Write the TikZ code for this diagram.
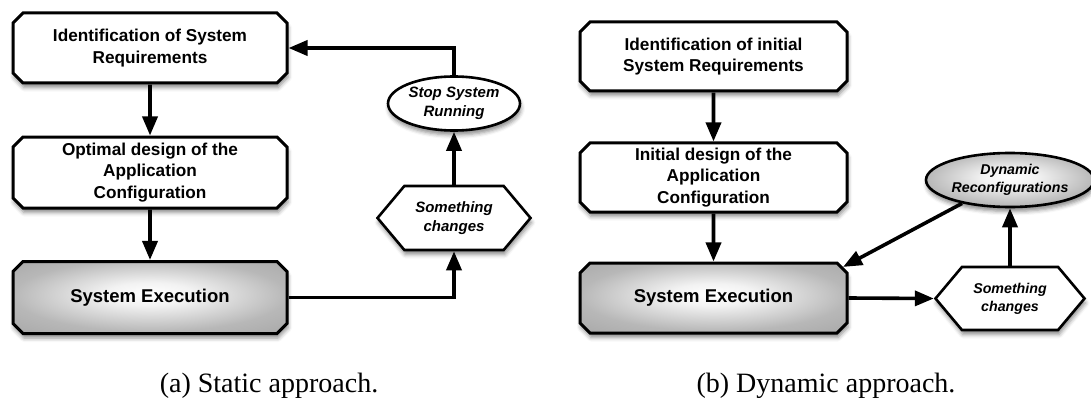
\documentclass[tikz,border=0pt]{standalone}
\usepackage{fontspec}
\setmainfont{Liberation Serif}
\setsansfont{Liberation Sans}
\usetikzlibrary{shapes.misc,shapes.symbols,shapes.geometric,arrows.meta,shadows.blur}

% soft grey centre-lit shading for highlighted nodes
\pgfdeclareradialshading{execshade}{\pgfpoint{0bp}{3bp}}{%
  color(0bp)=(white); color(8bp)=(white!95!black);
  color(25bp)=(black!28); color(36bp)=(black!34); color(50bp)=(black!34)}

\tikzset{
  softshadow/.style={blur shadow={shadow xshift=1pt, shadow yshift=-4.5pt,
      shadow opacity=45, shadow blur radius=4pt}},
  stepbox/.style={chamfered rectangle, chamfered rectangle sep=5pt,
      draw, line width=3pt, fill=white, inner sep=0pt, align=center,
      font=\sffamily\bfseries\fontsize{17.2}{21.5}\selectfont, softshadow},
  execbox/.style={stepbox, shading=execshade,
      font=\sffamily\bfseries\fontsize{18.5}{22}\selectfont},
  eventbox/.style={signal, signal to=east and west, signal pointer angle=100,
      draw, line width=2.6pt, fill=white, inner sep=0pt, align=center,
      font=\sffamily\bfseries\itshape\fontsize{15}{19}\selectfont, softshadow},
  actionbox/.style={ellipse, draw, line width=2.6pt, fill=white, inner sep=0pt,
      align=center, font=\sffamily\bfseries\itshape\fontsize{15}{19}\selectfont,
      softshadow},
  flow/.style={line width=3.6pt, -{Triangle[length=19pt,width=15pt]}},
  caption/.style={font=\rmfamily\fontsize{28}{32}\selectfont, anchor=base, inner sep=0pt}
}

\begin{document}
\begin{tikzpicture}[x=1pt,y=-1pt]
\useasboundingbox (0,0) rectangle (1091,401);

% ---- (a) static approach ----
\node[stepbox, minimum width=274pt, minimum height=70pt] (s1) at (150,48)
  {Identification of System\\Requirements};
\node[stepbox, minimum width=274pt, minimum height=71pt] (s2) at (150,172.5)
  {Optimal design of the\\Application\\Configuration};
\node[execbox, minimum width=274pt, minimum height=72pt] (s3) at (150,297.5)
  {System Execution};
\node[eventbox, minimum width=153pt, minimum height=64pt] (sc1) at (454,218)
  {Something\\changes};
\node[actionbox, minimum width=132pt, minimum height=54pt] (stop) at (454,103.5)
  {Stop System\\Running};

\draw[flow] (s1) -- (s2);
\draw[flow] (s2) -- (s3);
\draw[flow] (s3.east) -| (sc1.south);
\draw[flow] (sc1.north) -- (stop.south);
\draw[flow] (stop.north) |- (s1.east);

\node[caption] (capa) at (269,392) {(a) Static approach.};

% ---- (b) dynamic approach ----
\node[stepbox, minimum width=267pt, minimum height=69pt] (d1) at (713.5,56.5)
  {Identification of initial\\System Requirements};
\node[stepbox, minimum width=267pt, minimum height=69pt] (d2) at (713.5,177.5)
  {Initial design of the\\Application\\Configuration};
\node[execbox, minimum width=267pt, minimum height=70pt] (d3) at (713.5,298)
  {System Execution};
\node[eventbox, minimum width=149pt, minimum height=63pt,
      font=\sffamily\bfseries\itshape\fontsize{14.2}{18}\selectfont] (sc2) at (1010,298.5)
  {Something\\changes};
\node[actionbox, shading=execshade, minimum width=168pt, minimum height=54pt,
      font=\sffamily\bfseries\itshape\fontsize{14.2}{18}\selectfont] (dyn) at (1010,180)
  {Dynamic\\Reconfigurations};

\draw[flow] (d1) -- (d2);
\draw[flow] (d2) -- (d3);
\draw[flow] (d3.east) -- (sc2.west);
\draw[flow] (sc2.north) -- (dyn.south);
\draw[flow] (dyn.206) -- (d3.north east);

\node[caption] (capb) at (826,392) {(b) Dynamic approach.};
\end{tikzpicture}
\end{document}
